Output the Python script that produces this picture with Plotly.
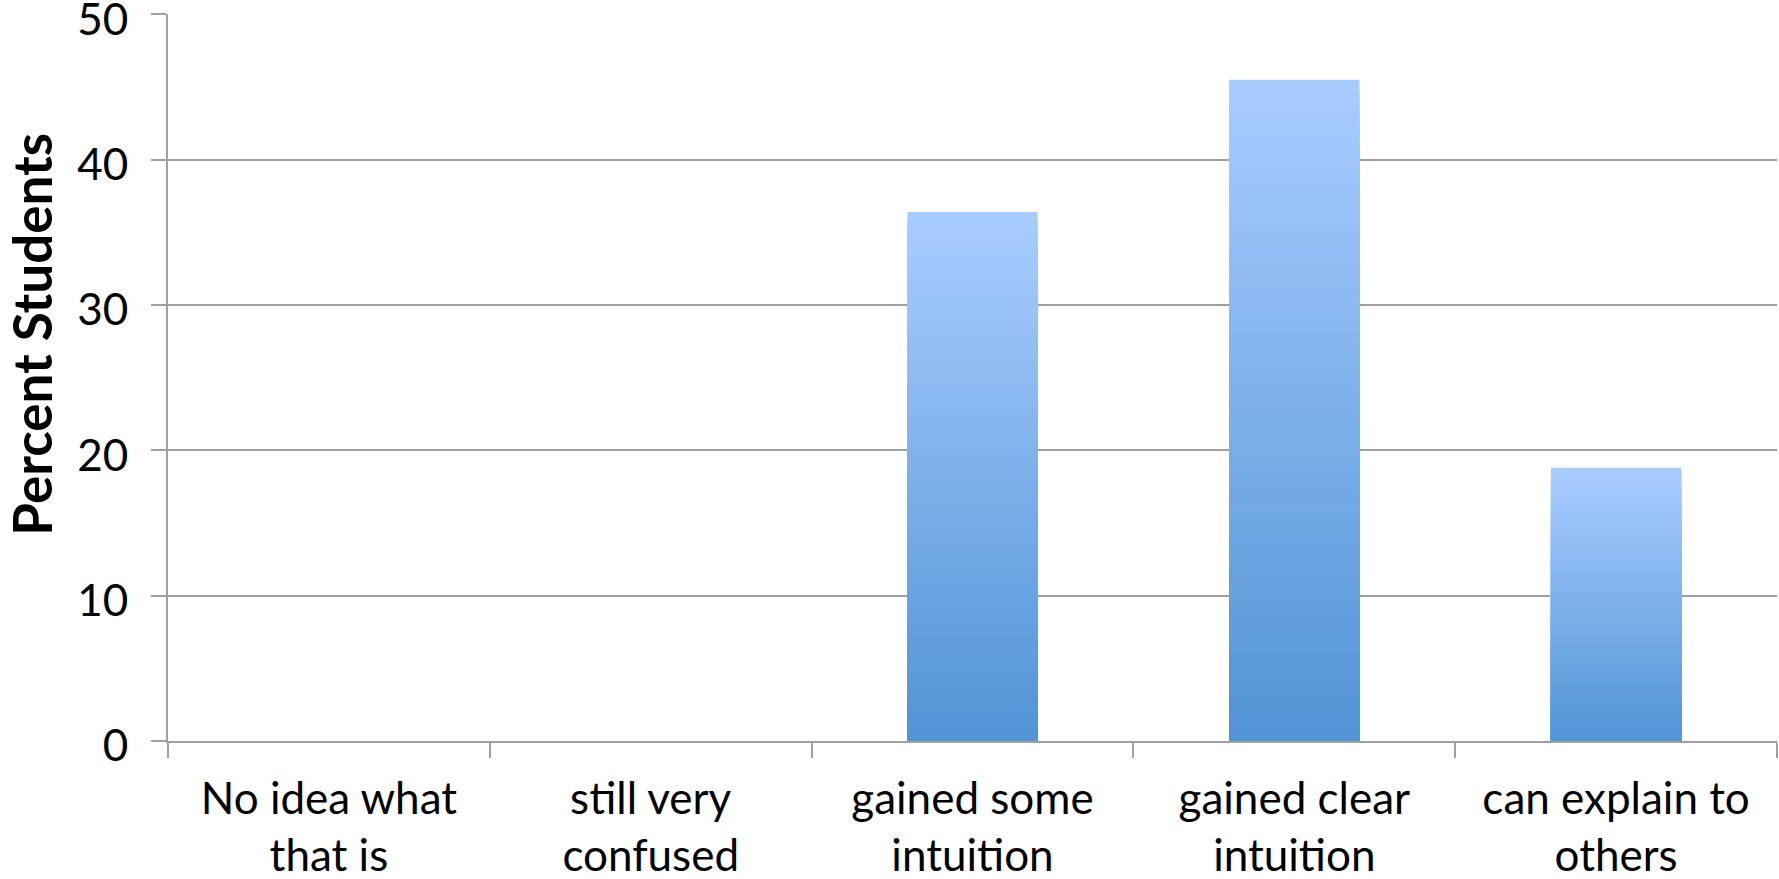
import plotly.graph_objects as go

categories = ["No idea what<br>that is", "still very<br>confused", "gained some<br>intuition",
              "gained clear<br>intuition", "can explain to<br>others"]
values = [0, 0, 36.4, 45.5, 18.8]
y_ticks = [0, 10, 20, 30, 40, 50]

top_rgb = (169, 204, 255)
bot_rgb = (82, 148, 214)
N = 60

fig = go.Figure()
for i in range(N):
    frac = 1 - i / N  # height fraction
    t = i / (N - 1)
    c = tuple(int(round(top_rgb[k] + (bot_rgb[k] - top_rgb[k]) * t)) for k in range(3))
    fig.add_trace(go.Bar(
        x=categories, y=[v * frac for v in values],
        marker=dict(color="rgb(%d,%d,%d)" % c, line=dict(width=0)),
        width=0.405, showlegend=False, hoverinfo="skip",
    ))

font_family = "Lato, 'Open Sans', sans-serif"
fig.update_layout(
    barmode="overlay",
    width=1779, height=879,
    margin=dict(l=168, r=2, t=14, b=138),
    plot_bgcolor="white", paper_bgcolor="white",
    font=dict(family=font_family, color="black"),
    xaxis=dict(
        showline=True, linecolor="#A0A0A0", linewidth=2,
        ticks="outside", ticklen=15, tickcolor="#A0A0A0", tickwidth=2,
        tickson="boundaries", showgrid=False,
        tickfont=dict(size=44, family=font_family),
        ticklabelstandoff=18, automargin=False,
    ),
    yaxis=dict(
        range=[0, 50.02], tickvals=y_ticks,
        showline=True, linecolor="#A0A0A0", linewidth=2,
        ticks="outside", ticklen=15, tickcolor="#A0A0A0", tickwidth=2,
        showgrid=True, gridcolor="#A0A0A0", gridwidth=1.5,
        zeroline=False, automargin=False, ticklabeloverflow="allow",
        tickfont=dict(size=44, family=font_family),
        ticklabelstandoff=14, ticklabelshift=5,
    ),
    annotations=[dict(
        text="<b>Percent Students</b>", textangle=-90,
        xref="paper", yref="paper", x=-0.0845, y=0.559,
        xanchor="center", yanchor="middle", showarrow=False,
        font=dict(size=53, family=font_family, color="black"),
    )],
)

fig.write_html("out.html")
